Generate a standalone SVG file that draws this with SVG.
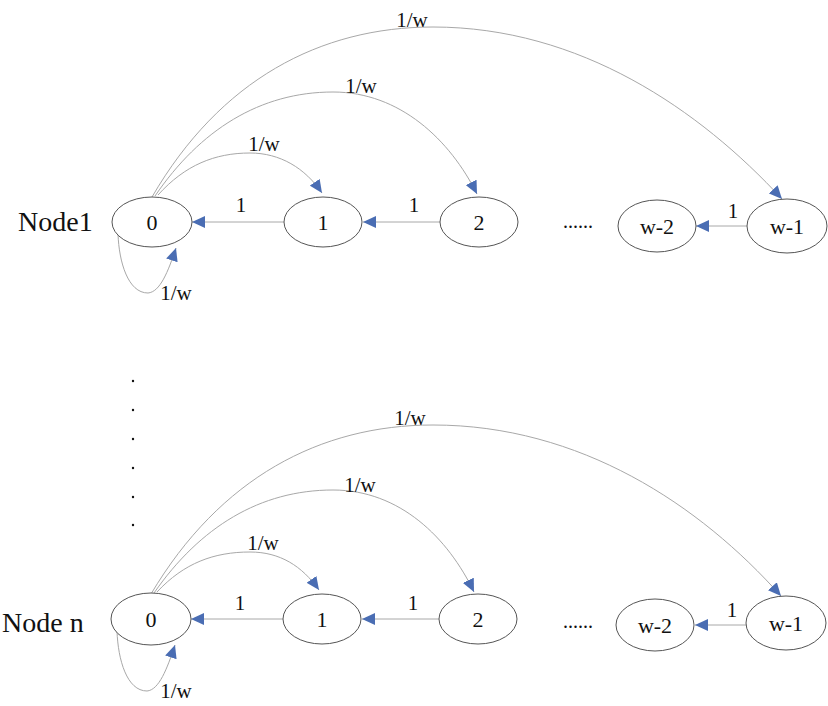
<svg xmlns="http://www.w3.org/2000/svg" width="828" height="706" viewBox="0 0 828 706">
<style>
.n ellipse{fill:#fff;stroke:#555;stroke-width:1}
text{font-family:"Liberation Serif","Times New Roman",serif;fill:#111}
.nl{font-size:22px;text-anchor:middle}
.el{font-size:21px;text-anchor:middle}
.big{font-size:28px}
.c path{fill:none;stroke:#a8a8a8;stroke-width:1}
</style>
<defs>
<marker id="ah" markerUnits="userSpaceOnUse" markerWidth="14" markerHeight="12" refX="13" refY="6" orient="auto">
<path d="M0,0 L13,6 L0,12 z" fill="#4a6db3"/>
</marker>
</defs>
<rect width="828" height="706" fill="#fff"/>

<g id="connectors" class="c">
<!-- top row -->
<path d="M284,222 H192" marker-end="url(#ah)"/>
<path d="M440,222 H363" marker-end="url(#ah)"/>
<path d="M748,226 H696" marker-end="url(#ah)"/>
<path d="M158,195 C185,165 215,153 250,153 C280,153 305,168 322,193" marker-end="url(#ah)"/>
<path d="M155,196 C200,130 260,92 333,92 C400,92 450,140 477,194" marker-end="url(#ah)"/>
<path d="M152,197 C220,80 320,27 433,27 C580,27 700,110 782,199" marker-end="url(#ah)"/>
<path d="M118,234 C119,262 128,293 148,293 C160,292 168,272 176,248" marker-end="url(#ah)"/>
<!-- bottom row -->
<path d="M283,619 H191" marker-end="url(#ah)"/>
<path d="M439,619 H362" marker-end="url(#ah)"/>
<path d="M747,625 H695" marker-end="url(#ah)"/>
<path d="M157,592 C184,563 214,552 250,552 C280,552 302,566 319,590" marker-end="url(#ah)"/>
<path d="M154,593 C200,527 260,490 333,490 C400,490 448,538 474,592" marker-end="url(#ah)"/>
<path d="M151,594 C220,478 320,425 433,425 C580,425 700,505 781,596" marker-end="url(#ah)"/>
<path d="M117,631 C118,660 127,691 147,691 C159,690 167,669 175,645" marker-end="url(#ah)"/>
</g>

<g id="edge-labels" class="el">
<text x="241" y="212">1</text>
<text x="414" y="212">1</text>
<text x="733" y="218">1</text>
<text x="264" y="151">1/w</text>
<text x="361" y="93">1/w</text>
<text x="412" y="27">1/w</text>
<text x="176" y="300">1/w</text>
<text x="240" y="610">1</text>
<text x="413" y="610">1</text>
<text x="732" y="617">1</text>
<text x="263" y="550">1/w</text>
<text x="360" y="492">1/w</text>
<text x="410" y="425">1/w</text>
<text x="176" y="698">1/w</text>
</g>

<text class="big" x="18" y="231">Node1</text>
<text class="big" x="2" y="632">Node n</text>

<g id="ellipsis-top"><text x="563" y="228" style="font-size:20px">......</text></g>
<g id="ellipsis-bottom"><text x="563" y="628" style="font-size:20px">......</text></g>

<g id="vdots" fill="#111">
<circle cx="133" cy="381" r="1.2"/>
<circle cx="133" cy="410" r="1.2"/>
<circle cx="133" cy="439" r="1.2"/>
<circle cx="133" cy="468" r="1.2"/>
<circle cx="133" cy="497" r="1.2"/>
<circle cx="133" cy="525" r="1.2"/>
</g>

<g id="top-0" class="n"><ellipse cx="152" cy="222" rx="40" ry="25"/><text class="nl" x="152" y="230">0</text></g>
<g id="top-1" class="n"><ellipse cx="323" cy="222" rx="39" ry="25"/><text class="nl" x="323" y="230">1</text></g>
<g id="top-2" class="n"><ellipse cx="479" cy="222" rx="39" ry="25"/><text class="nl" x="479" y="230">2</text></g>
<g id="top-w2" class="n"><ellipse cx="657" cy="226" rx="39" ry="26"/><text class="nl" x="657" y="234">w-2</text></g>
<g id="top-w1" class="n"><ellipse cx="787" cy="226" rx="40" ry="27"/><text class="nl" x="787" y="234">w-1</text></g>

<g id="bot-0" class="n"><ellipse cx="151" cy="619" rx="40" ry="26"/><text class="nl" x="151" y="627">0</text></g>
<g id="bot-1" class="n"><ellipse cx="322" cy="619" rx="39" ry="25"/><text class="nl" x="322" y="627">1</text></g>
<g id="bot-2" class="n"><ellipse cx="478" cy="619" rx="39" ry="25"/><text class="nl" x="478" y="627">2</text></g>
<g id="bot-w2" class="n"><ellipse cx="655" cy="625" rx="39" ry="26"/><text class="nl" x="655" y="633">w-2</text></g>
<g id="bot-w1" class="n"><ellipse cx="786" cy="623" rx="40" ry="27"/><text class="nl" x="786" y="631">w-1</text></g>
</svg>
